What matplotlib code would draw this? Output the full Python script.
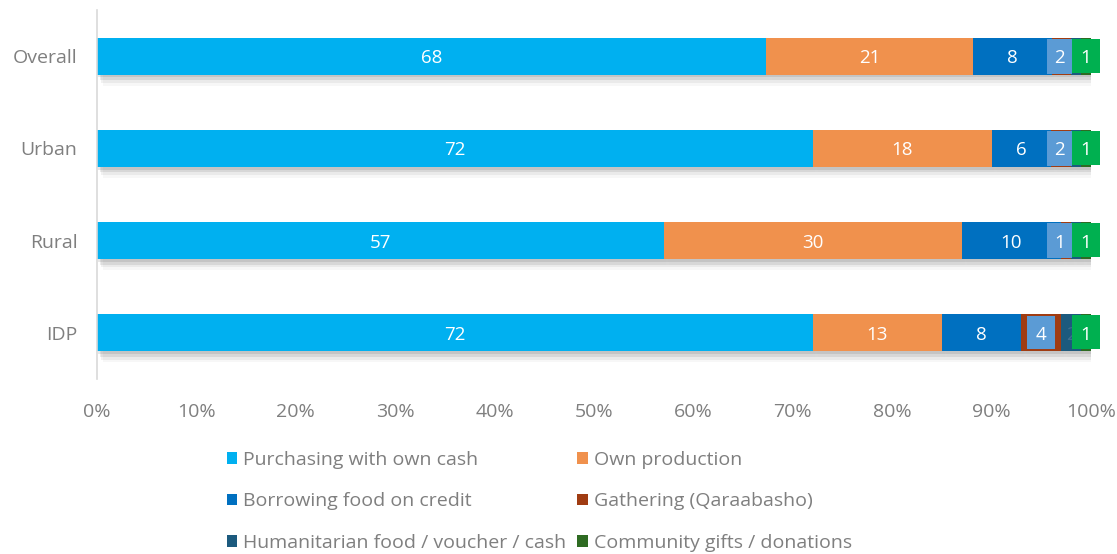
import matplotlib
matplotlib.use("Agg")
import matplotlib.pyplot as plt
import matplotlib.patheffects as pe
from matplotlib.patches import Rectangle
import numpy as np

plt.rcParams['font.family'] = ['Open Sans', 'DejaVu Sans']

categories = ["Overall", "Urban", "Rural", "IDP"]
series_names = ["Purchasing with own cash", "Own production", "Borrowing food on credit",
                "Gathering (Qaraabasho)", "Humanitarian food / voucher / cash",
                "Community gifts / donations"]
purchasing = [68, 72, 57, 72]
own_production = [21, 18, 30, 13]
borrowing = [8, 6, 10, 8]
gathering = [2, 2, 1, 4]
humanitarian = [1, 1, 1, 2]
community = [1, 1, 1, 1]
xtick_labels = ["0%", "10%", "20%", "30%", "40%", "50%", "60%", "70%", "80%", "90%", "100%"]

colors = ["#00B0F0", "#F0914D", "#0070C0", "#A03C12", "#1C5A7E", "#2E6B22"]
gath_box_color = "#5B9BD5"
comm_box_color = "#00B050"
text_gray = "#7F7F7F"

data = np.array([purchasing, own_production, borrowing, gathering, humanitarian, community], dtype=float)
totals = data.sum(axis=0)
pct = data / totals * 100
cum = np.cumsum(pct, axis=0)
left = cum - pct

fig = plt.figure(figsize=(11.17, 5.54), dpi=100)
ax = fig.add_axes([0.0868, 0.3159, 0.8899, 0.666])

y = np.arange(len(categories))
bar_h = 0.40
shadow = [pe.SimplePatchShadow(offset=(1, -2), shadow_rgbFace="#404040", alpha=0.12),
          pe.SimplePatchShadow(offset=(2, -4), shadow_rgbFace="#404040", alpha=0.10),
          pe.SimplePatchShadow(offset=(3, -6), shadow_rgbFace="#404040", alpha=0.07),
          pe.SimplePatchShadow(offset=(4, -8), shadow_rgbFace="#404040", alpha=0.04),
          pe.Normal()]
for i in range(len(series_names)):
    bars = ax.barh(y, pct[i], left=left[i], height=bar_h, color=colors[i], label=series_names[i], zorder=2)
    for b in bars:
        b.set_path_effects(shadow)

label_fs = 13.5
for j in range(len(categories)):
    for i in range(3):
        ax.text(left[i][j] + pct[i][j] / 2, y[j], f"{data[i][j]:g}", ha="center", va="center_baseline",
                color="white", fontsize=label_fs, zorder=5)
    # community label box
    comm_w = 2.8
    comm_c = left[5][j] + pct[5][j] / 2
    ax.add_patch(Rectangle((comm_c - comm_w / 2, y[j] - bar_h / 2 + 0.01), comm_w, bar_h - 0.03,
                           facecolor=comm_box_color, edgecolor="none", zorder=6, clip_on=False))
    # humanitarian label (only when wider)
    if data[4][j] > 1:
        ax.text(left[4][j] + pct[4][j] / 2, y[j], f"{data[4][j]:g}", ha="center", va="center_baseline",
                color="#3F6F8F", fontsize=label_fs, zorder=5)
    ax.text(comm_c, y[j], f"{data[5][j]:g}", ha="center", va="center_baseline", color="white",
            fontsize=label_fs, zorder=7, clip_on=False)
    # gathering label box
    g_w = 2.5 if pct[3][j] < 3 else 2.8
    g_c = left[3][j] + pct[3][j] / 2
    g_right = min(g_c + g_w / 2, comm_c - comm_w / 2)
    g_h = bar_h - 0.04 if pct[3][j] >= 3 else bar_h - 0.02
    ax.add_patch(Rectangle((g_right - g_w, y[j] - g_h / 2), g_w, g_h,
                           facecolor=gath_box_color, edgecolor="none", zorder=4))
    ax.text(g_right - g_w / 2, y[j], f"{data[3][j]:g}", ha="center", va="center_baseline", color="white",
            fontsize=label_fs, zorder=5)

ax.set_xlim(0, 100)
ax.set_ylim(3.5, -0.5)
ax.set_xticks(np.arange(0, 101, 10))
ax.set_xticklabels(xtick_labels)
ax.set_yticks(y)
ax.set_yticklabels(categories)
ax.tick_params(axis="both", length=0, colors=text_gray, labelsize=14)
ax.tick_params(axis="x", pad=17)
ax.tick_params(axis="y", pad=14)
for s in ["top", "right", "bottom"]:
    ax.spines[s].set_visible(False)
ax.spines["left"].set_color("#D9D9D9")
ax.spines["left"].set_linewidth(1.2)

handles = [Rectangle((0, 0), 1, 1, facecolor=c, edgecolor="none") for c in colors]
order = [0, 2, 4, 1, 3, 5]
leg = fig.legend([handles[k] for k in order], [series_names[k] for k in order], ncol=2,
                 loc="upper left", bbox_to_anchor=(0.203, 0.186), frameon=False, fontsize=14,
                 handlelength=0.55, handleheight=0.55, handletextpad=0.3, columnspacing=0.55,
                 labelspacing=1.2, borderpad=0, borderaxespad=0)
for t in leg.get_texts():
    t.set_color(text_gray)

fig.savefig("out.png", dpi=100, facecolor="white")
